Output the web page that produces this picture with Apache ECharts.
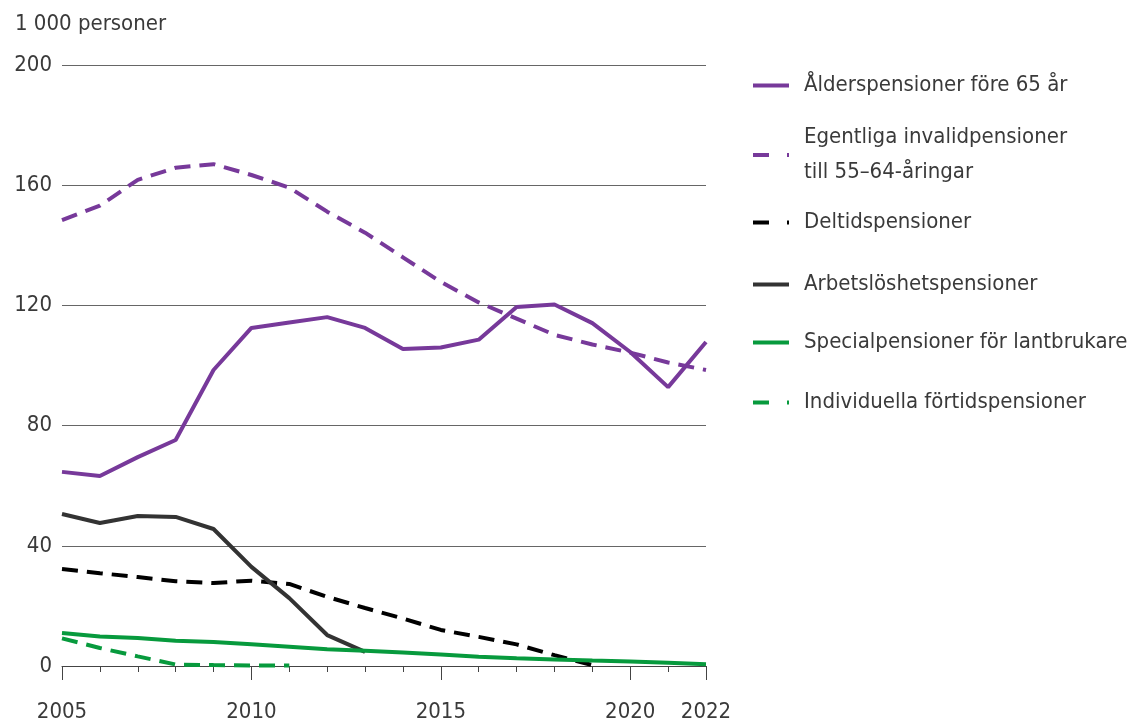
<!DOCTYPE html>
<html>
<head>
<meta charset="utf-8">
<script src="https://cdn.jsdelivr.net/npm/echarts@6/dist/echarts.min.js"></script>
<style>
  html, body { margin: 0; padding: 0; background: #fff; }
  #chart { width: 1148px; height: 723px; }
</style>
</head>
<body>
<div id="chart"></div>
<script>
const years = [2005, 2006, 2007, 2008, 2009, 2010, 2011, 2012, 2013, 2014, 2015, 2016, 2017, 2018, 2019, 2020, 2021, 2022]
const yearLabels = [2005, 2010, 2015, 2020, 2022]

const alder = [64.6, 63.2, 69.5, 75.2, 98.5, 112.5, 114.3, 116.1, 112.5, 105.5, 106.0, 108.6, 119.5, 120.3, 114.1, 104.5, 92.8, 107.8]
const invalid = [148.4, 153.2, 161.8, 165.8, 167.0, 163.4, 159.2, 151.2, 144.2, 136.0, 127.8, 121.0, 115.6, 110.2, 107.0, 104.3, 101.0, 98.5]
const deltid = [32.3, 30.9, 29.6, 28.2, 27.6, 28.4, 27.3, 23.0, 19.3, 15.8, 12.0, 9.7, 7.2, 3.6, 0.3]
const arbetsloshet = [50.6, 47.6, 49.9, 49.6, 45.6, 33.0, 22.6, 10.3, 4.7]
const lantbrukare = [11.0, 9.8, 9.3, 8.4, 8.0, 7.2, 6.4, 5.6, 5.1, 4.5, 3.8, 3.1, 2.6, 2.2, 1.8, 1.5, 1.1, 0.6]
const individuella = [9.2, 6.0, 3.2, 0.5, 0.3, 0.2, 0.2]

const names = [
  'Ålderspensioner före 65 år',
  'Egentliga invalidpensioner\ntill 55–64-åringar',
  'Deltidspensioner',
  'Arbetslöshetspensioner',
  'Specialpensioner för lantbrukare',
  'Individuella förtidspensioner',
]
const dashedSeries = [false, true, true, false, false, true]

const PURPLE = '#77399a'
const BLACK = '#000000'
const DARK = '#333333'
const GREEN = '#079a3d'
const TEXT = '#3a3a3a'
const FONT = "'Liberation Sans Narrow', 'DejaVu Sans Condensed', 'Roboto', sans-serif"

function pairs(values) {
  return values.map((v, i) => [years[i], v])
}

function line(name, values, color, dashed) {
  return {
    name,
    type: 'line',
    data: pairs(values),
    symbol: 'none',
    lineStyle: { color, width: 4, type: dashed ? [16, 9] : 'solid', cap: 'butt' },
    itemStyle: { color },
  }
}

const legendTops = [68, 120, 205, 267, 325, 385]
const legends = names.map((n, i) => ({
  data: [n],
  left: 751,
  top: legendTops[i],
  padding: 0,
  itemWidth: 36,
  itemHeight: 14,
  selectedMode: false,
  itemStyle: { opacity: 0 },
  lineStyle: { width: 4, type: dashedSeries[i] ? [16, 18] : 'solid', cap: 'butt' },
  textStyle: { fontFamily: FONT, fontSize: 22, color: TEXT, lineHeight: 35, padding: [0, 0, 0, 10] },
}))

const chart = echarts.init(document.getElementById('chart'))
chart.setOption({
  animation: false,
  textStyle: { fontFamily: FONT },
  grid: { left: 62, right: 442, top: 65, bottom: 57, containLabel: false },
  legend: legends,
  xAxis: [
    {
      type: 'value',
      min: 2005,
      max: 2022,
      interval: 1,
      axisLine: { lineStyle: { color: '#444', width: 1 } },
      axisTick: { length: 6, lineStyle: { color: '#444' } },
      axisLabel: {
        customValues: yearLabels,
        formatter: v => String(v),
        fontFamily: FONT,
        fontSize: 22,
        color: TEXT,
        margin: 35,
      },
      splitLine: { show: false },
    },
    {
      type: 'value',
      position: 'bottom',
      min: 2005,
      max: 2022,
      axisLine: { show: false },
      axisTick: { customValues: yearLabels, length: 14, lineStyle: { color: '#444' } },
      axisLabel: { show: false },
      splitLine: { show: false },
    },
  ],
  yAxis: {
    type: 'value',
    min: 0,
    max: 200,
    interval: 40,
    name: '1 000 personer',
    nameLocation: 'end',
    nameGap: 30,
    nameTextStyle: { fontFamily: FONT, fontSize: 22, color: TEXT, align: 'left', padding: [0, 0, 0, -47] },
    axisLine: { show: false },
    axisTick: { show: false },
    axisLabel: { fontFamily: FONT, fontSize: 22, color: TEXT, margin: 10 },
    splitLine: { lineStyle: { color: '#666', width: 1 } },
  },
  series: [
    line(names[0], alder, PURPLE, false),
    line(names[1], invalid, PURPLE, true),
    line(names[2], deltid, BLACK, true),
    line(names[3], arbetsloshet, DARK, false),
    line(names[4], lantbrukare, GREEN, false),
    line(names[5], individuella, GREEN, true),
  ],
})
</script>
</body>
</html>
